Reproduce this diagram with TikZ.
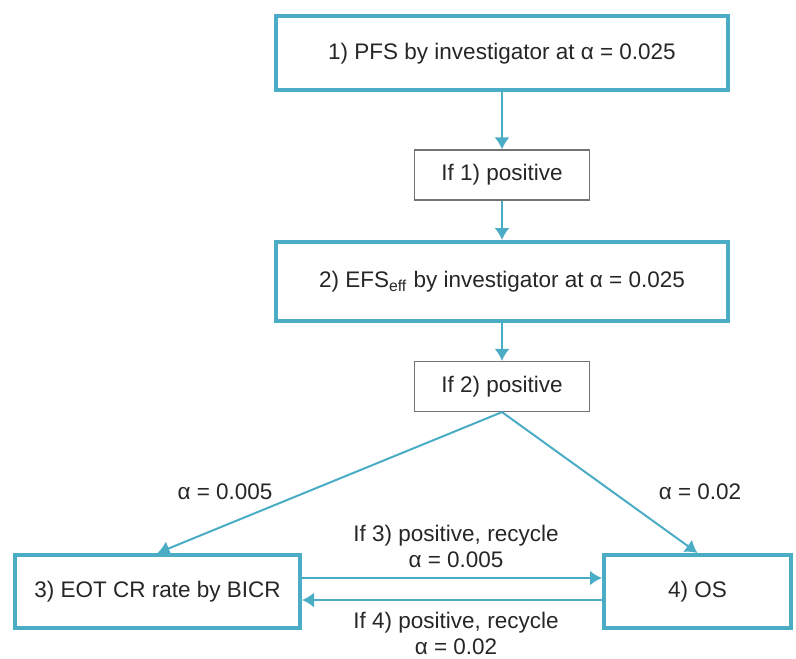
\documentclass[tikz,border=0pt]{standalone}
\usepackage{fontspec}
\setmainfont{Liberation Sans}
\usetikzlibrary{arrows.meta}
\definecolor{flowblue}{HTML}{4BACC6}
\tikzstyle{mainbox} = [rectangle, draw=flowblue, line width=2pt, minimum width=226pt, minimum height =37pt, text centered, inner sep=0pt]
\tikzstyle{condbox} = [rectangle, draw=black!55, line width=0.6pt, minimum width=87.5pt, minimum height =25pt, text centered, inner sep=0pt]
\tikzstyle{alphatext} = [text centered, align=center, inner sep=0pt]
\tikzstyle{arrow} = [draw=flowblue, line width=1pt,->,>={Latex[length=6pt,width=7.5pt]}]

\begin{document}
\begin{tikzpicture}[x=0.5pt, y=-0.5pt, font=\fontsize{11.25}{13}\selectfont, text=black!85]
\useasboundingbox (0,0) rectangle (796,658);

\node (pfs) [mainbox] at (502,53.5) {1) PFS by investigator at α = 0.025};
\node (ifone) [condbox, below of = pfs, node distance=60.75pt] {If 1) positive};
\node (efs) [mainbox, below of = ifone, node distance=53.25pt, minimum height=39.5pt] {2) EFS\textsubscript{eff} by investigator at α = 0.025};
\node (iftwo) [condbox, below of = efs, node distance=52.5pt] {If 2) positive};
\node (eot) [mainbox, minimum width=142.5pt, minimum height=36.5pt] at (157.5,591.5) {3) EOT CR rate by BICR};
\node (os) [mainbox, minimum width=93.5pt, minimum height=36.5pt] at (697.5,591.5) {4) OS};

\node (alphaeot) [alphatext] at (225,492) {α = 0.005};
\node (alphaos) [alphatext] at (700,492) {α = 0.02};
\node (recyclethree) [alphatext] at (456,546) {If 3) positive, recycle\\α = 0.005};
\node (recyclefour) [alphatext] at (456,633) {If 4) positive, recycle\\α = 0.02};

\draw [arrow] (pfs) -- (ifone);
\draw [arrow] (ifone) -- (efs);
\draw [arrow] (efs) -- (iftwo);
\draw [arrow] (iftwo.south) -- (eot.north);
\draw [arrow] (iftwo.south) -- (os.north);
\draw [arrow, line width=1.4pt] ([yshift=6.75pt]eot.east) -- ([yshift=6.75pt]os.west);
\draw [arrow] ([yshift=-4.25pt]os.west) -- ([yshift=-4.25pt]eot.east);

\end{tikzpicture}
\end{document}
